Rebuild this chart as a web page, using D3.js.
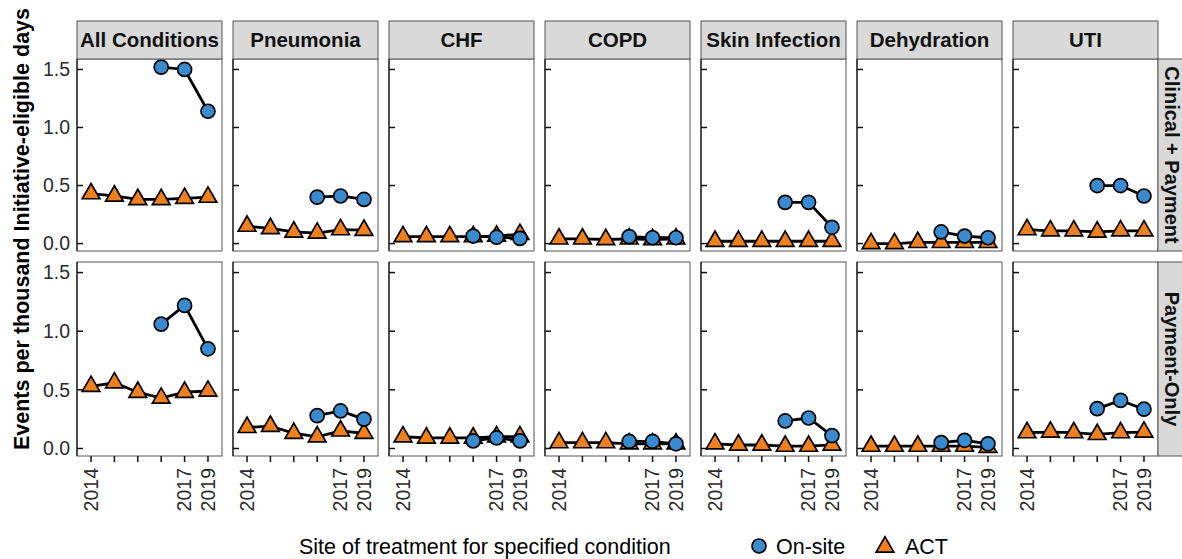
<!DOCTYPE html>
<html>
<head>
<meta charset="utf-8">
<script src="https://cdn.jsdelivr.net/npm/d3@7"></script>
<style>
  body { margin: 0; background: #fff; }
  text { font-family: "Liberation Sans", Arial, sans-serif; }
</style>
</head>
<body>
<div id="chart"></div>
<script>
// facets
const conditions = ["All Conditions", "Pneumonia", "CHF", "COPD", "Skin Infection", "Dehydration", "UTI"];
const programs = ["Clinical + Payment", "Payment-Only"];
const periods = [0, 1, 2, 3, 4, 5];
const xTickLabels = ["2014", "", "", "", "2017", "2019"];
const yTicks = [0, 0.5, 1.0, 1.5];

// ACT series, one row per condition (6 periods)
const actClinical = [
    [0.43, 0.41, 0.38, 0.38, 0.39, 0.40],
    [0.15, 0.13, 0.10, 0.09, 0.12, 0.115],
    [0.06, 0.06, 0.06, 0.06, 0.065, 0.08],
    [0.04, 0.04, 0.035, 0.04, 0.035, 0.04],
    [0.02, 0.02, 0.02, 0.02, 0.02, 0.02],
    [0.00, 0.00, 0.01, 0.01, 0.01, 0.01],
    [0.12, 0.11, 0.11, 0.10, 0.11, 0.11]
];
const actPayment = [
    [0.53, 0.56, 0.48, 0.43, 0.48, 0.49],
    [0.18, 0.19, 0.13, 0.10, 0.15, 0.13],
    [0.10, 0.09, 0.09, 0.09, 0.10, 0.10],
    [0.05, 0.05, 0.05, 0.04, 0.04, 0.04],
    [0.04, 0.03, 0.03, 0.02, 0.02, 0.03],
    [0.02, 0.02, 0.02, 0.02, 0.02, 0.01],
    [0.135, 0.14, 0.135, 0.12, 0.135, 0.14]
];
// On-site series, last 3 periods only
const onsiteClinical = [
    [1.52, 1.50, 1.14],
    [0.40, 0.41, 0.38],
    [0.065, 0.055, 0.045],
    [0.06, 0.05, 0.05],
    [0.355, 0.355, 0.14],
    [0.10, 0.065, 0.05],
    [0.50, 0.50, 0.41]
];
const onsitePayment = [
    [1.06, 1.22, 0.85],
    [0.28, 0.32, 0.25],
    [0.065, 0.09, 0.065],
    [0.06, 0.06, 0.04],
    [0.235, 0.26, 0.11],
    [0.05, 0.07, 0.04],
    [0.34, 0.41, 0.335]
];
const onsitePeriods = [3, 4, 5];

const actByRow = [actClinical, actPayment];
const onsiteByRow = [onsiteClinical, onsitePayment];

const WIDTH = 1182, HEIGHT = 559;
const blue = "#3a8ad0", orange = "#f07f1e";

let svg = d3.select("#chart")
    .append("svg")
    .attr("width", WIDTH)
    .attr("height", HEIGHT);

svg.append("rect").attr("width", WIDTH).attr("height", HEIGHT).attr("fill", "#fff");

// panel geometry
let panelLeft = 77, panelW = 145, panelGap = 11;
let rowTop = [59, 262], panelH = [192, 194];
let stripTop = 21, stripH = 38;

let x = d3.scalePoint()
    .domain(periods)
    .range([0, panelW])
    .padding(0.6);

let triangle = d3.symbol().type(d3.symbolTriangle).size(135);

programs.forEach(function(prog, r) {
    let y = d3.scaleLinear()
        .domain([-0.064, 1.59])
        .range([panelH[r], 0]);

    conditions.forEach(function(cond, c) {
        let px = panelLeft + c * (panelW + panelGap);
        let g = svg.append("g").attr("transform", `translate(${px},${rowTop[r]})`);

        g.append("rect")
            .attr("width", panelW).attr("height", panelH[r])
            .attr("fill", "#fff")
            .attr("stroke", "#555").attr("stroke-width", 1);

        // y axis: black line, ticks pointing into the panel
        g.append("line").attr("x1", 0).attr("x2", 0).attr("y1", 0).attr("y2", panelH[r])
            .attr("stroke", "#111").attr("stroke-width", 1.2);
        g.selectAll(".ytick").data(yTicks).enter().append("line")
            .attr("x1", 0).attr("x2", 6)
            .attr("y1", d => y(d)).attr("y2", d => y(d))
            .attr("stroke", "#111").attr("stroke-width", 1.5);
        if (c == 0) {
            g.selectAll(".ylab").data(yTicks).enter().append("text")
                .attr("x", -7).attr("y", d => y(d))
                .attr("dy", "0.35em")
                .style("text-anchor", "end")
                .style("font-size", "19.5px")
                .attr("fill", "#2b2b2b")
                .text(d => d3.format(".1f")(d));
        }

        // x axis on bottom row only
        if (r == 1) {
            g.selectAll(".xtick").data(periods).enter().append("line")
                .attr("x1", d => x(d)).attr("x2", d => x(d))
                .attr("y1", panelH[r]).attr("y2", panelH[r] + 6)
                .attr("stroke", "#111").attr("stroke-width", 1.5);
            g.selectAll(".xlab").data(periods).enter().append("text")
                .attr("transform", d => `translate(${x(d)},${panelH[r] + 12}) rotate(-90)`)
                .attr("dy", "0.35em")
                .style("text-anchor", "end")
                .style("font-size", "19.5px")
                .attr("fill", "#2b2b2b")
                .text(d => xTickLabels[d]);
        }

        let act = actByRow[r][c];
        let onsite = onsiteByRow[r][c];

        let line = d3.line().x(d => x(d[0])).y(d => y(d[1]));
        let actPts = periods.map((p, i) => [p, act[i]]);
        let onPts = onsitePeriods.map((p, i) => [p, onsite[i]]);

        g.append("path").attr("d", line(actPts))
            .attr("fill", "none").attr("stroke", "#000").attr("stroke-width", 2.8);
        g.append("path").attr("d", line(onPts))
            .attr("fill", "none").attr("stroke", "#000").attr("stroke-width", 2.8);

        g.selectAll(".act").data(actPts).enter().append("path")
            .attr("d", triangle)
            .attr("transform", d => `translate(${x(d[0])},${y(d[1])})`)
            .attr("fill", orange).attr("stroke", "#000").attr("stroke-width", 1.7);
        g.selectAll(".on").data(onPts).enter().append("circle")
            .attr("cx", d => x(d[0])).attr("cy", d => y(d[1]))
            .attr("r", 7)
            .attr("fill", blue).attr("stroke", "#000").attr("stroke-width", 1.7);

        // top strips
        if (r == 0) {
            svg.append("rect")
                .attr("x", px).attr("y", stripTop)
                .attr("width", panelW).attr("height", stripH)
                .attr("fill", "#d9d9d9").attr("stroke", "#555").attr("stroke-width", 1);
            svg.append("text")
                .attr("x", px + panelW / 2).attr("y", stripTop + stripH / 2)
                .attr("dy", "0.35em")
                .style("text-anchor", "middle")
                .style("font-size", "20.5px").style("font-weight", "bold")
                .attr("fill", "#111")
                .text(cond);
        }
    });

    // right strip, running to the page edge
    let sx = panelLeft + conditions.length * (panelW + panelGap) - panelGap;
    svg.append("rect")
        .attr("x", sx).attr("y", rowTop[r])
        .attr("width", 32).attr("height", panelH[r])
        .attr("fill", "#d9d9d9").attr("stroke", "#555").attr("stroke-width", 1);
    svg.append("text")
        .attr("transform", `translate(${sx + 7},${rowTop[r] + panelH[r] / 2}) rotate(90)`)
        .style("text-anchor", "middle")
        .style("font-size", "20px").style("font-weight", "bold")
        .attr("fill", "#111")
        .text(prog);
});

// y axis title
svg.append("text")
    .attr("transform", `translate(29,229) rotate(-90)`)
    .style("text-anchor", "middle")
    .style("font-size", "21.5px").style("font-weight", "bold")
    .text("Events per thousand Initiative-eligible days");

// legend
let legend = svg.append("g").attr("transform", "translate(0,546)");
legend.append("text")
    .attr("x", 299).attr("dy", "0.35em")
    .style("font-size", "21.5px")
    .text("Site of treatment for specified condition");
legend.append("circle")
    .attr("cx", 759).attr("cy", 0).attr("r", 7)
    .attr("fill", blue).attr("stroke", "#000").attr("stroke-width", 1.7);
legend.append("text")
    .attr("x", 776).attr("dy", "0.35em")
    .style("font-size", "21.5px")
    .text("On-site");
legend.append("path")
    .attr("d", triangle)
    .attr("transform", "translate(885,1)")
    .attr("fill", orange).attr("stroke", "#000").attr("stroke-width", 1.7);
legend.append("text")
    .attr("x", 905).attr("dy", "0.35em")
    .style("font-size", "21.5px")
    .text("ACT");
</script>
</body>
</html>
